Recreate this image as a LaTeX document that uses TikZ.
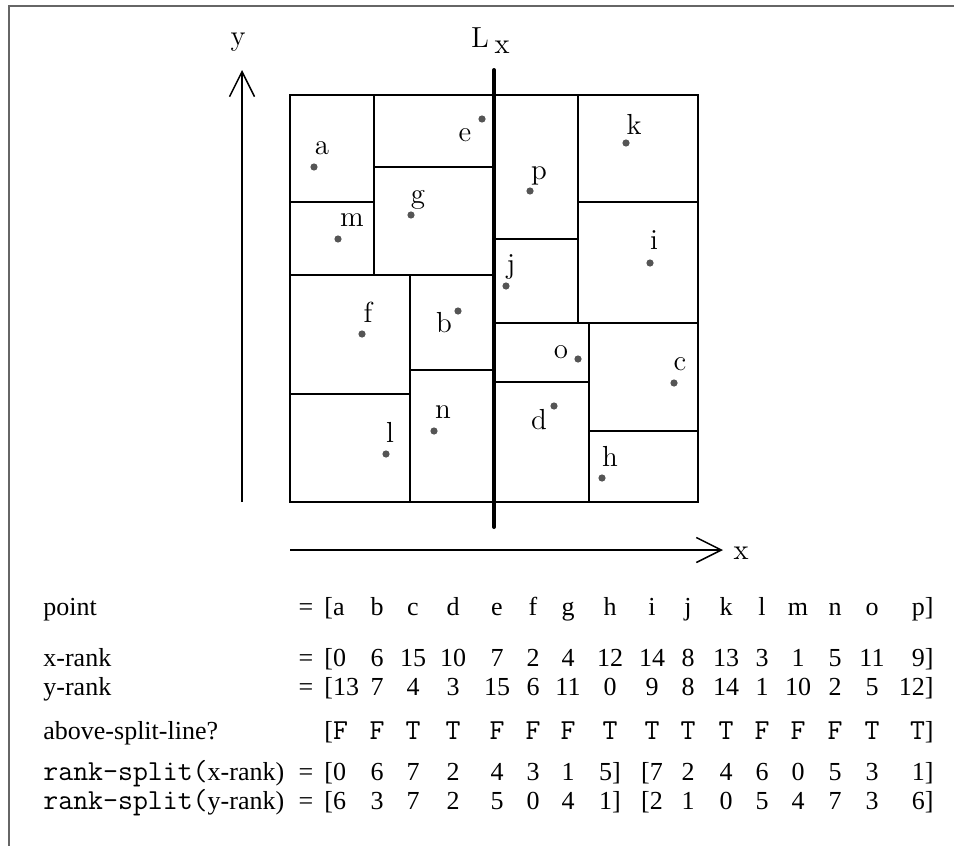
\documentclass[tikz,border=0pt]{standalone}
\usepackage{fontspec}
\newfontfamily\tabfont{Liberation Serif}
\usetikzlibrary{arrows.meta}
\definecolor{dotgray}{HTML}{555555}
\definecolor{bordergray}{HTML}{666666}
\newcommand\tabsize{\fontsize{13}{15}\selectfont}
\newcommand\ttsize{\fontsize{14.5}{16}\selectfont}
\newcommand\lblsize{\fontsize{14.5}{17}\selectfont}
\newcommand\tabrow[6]{%
  \node[#3, anchor=base west] (#1-1) at (324,#2) {#4};
  \foreach \v [count=\k from 2] in {#5} {
    \pgfmathsetmacro\cx{{377,413,453,497,533,568,610,652,688,726,762,798,835,872}[\k-2]}
    \node[#3, anchor=base] (#1-\k) at (\cx,#2) {\v};
  }
  \node[#3, anchor=base east] (#1-16) at (934,#2) {#6};
}
\tikzset{
  box/.style={draw, line width=0.75pt},
  splitline/.style={line width=2pt, line cap=round},
  axis/.style={line width=0.75pt, -{Straight Barb[length=12.5pt, width=12.5pt, line width=0.75pt]}},
  pt/.style={circle, fill=dotgray, inner sep=0pt, minimum size=3.6pt},
  plabel/.style={font=\lblsize, inner sep=0pt},
  tcell/.style={font=\tabfont\tabsize, inner sep=0pt},
  ttcell/.style={font=\ttfamily\ttsize, inner sep=0pt},
  frame/.style={draw=bordergray, line width=1pt}
}
\begin{document}
\begin{tikzpicture}[x=0.5pt, y=-0.5pt]
\fill[white] (0,0) rectangle (954,846);
\useasboundingbox (0,0) rectangle (954,846);
% frame
\draw[frame] (8.5,846) -- (8.5,5.5) -- (954,5.5);
% axes
\draw[axis] (242,502) -- (242,70);
\draw[axis] (290,550) -- (723,550);
\node[plabel] (ylab) at (238,42) {y};
\node[plabel] (xlab) at (741,553) {x};
% split line label
\node[plabel] (LxL) at (480,37.5) {L};
\node[plabel] (Lxx) at (502,47.5) {x};
% boxes
\draw[box] (290,95) rectangle (698,502);
\draw[box] (374,95) -- (374,275);
\draw[box] (374,167) -- (494,167);
\draw[box] (290,202) -- (374,202);
\draw[box] (290,275) -- (494,275);
\draw[box] (410,275) -- (410,502);
\draw[box] (290,394) -- (410,394);
\draw[box] (410,370) -- (494,370);
\draw[box] (578,95) -- (578,323);
\draw[box] (578,202) -- (698,202);
\draw[box] (494,239) -- (578,239);
\draw[box] (494,323) -- (698,323);
\draw[box] (589,323) -- (589,502);
\draw[box] (494,382) -- (589,382);
\draw[box] (589,431) -- (698,431);
% split line
\draw[splitline] (494,70) -- (494,527);
% points
\foreach \n/\dx/\dy/\lx/\ly in {a/314/167/322/148, b/458/311/444/323, c/674/383/680/364,
  d/554/406/539/420, e/482/119/465/135, f/362/334/368/312, g/411/215/418/200,
  h/602/478/610/456, i/650/263/654/240, j/506/286/511/267, k/626/143/634/124,
  l/386/454/390/432, m/338/239/352/220, n/434/431/443/412, o/578/359/561/352,
  p/530/191/539/176} {
  \node[pt] (\n) at (\dx,\dy) {};
  \node[plabel] (l\n) at (\lx,\ly) {\n};
}
% table labels
\node[tcell, anchor=base west] (lbl-pt) at (43,615) {point};
\node[tcell, anchor=base west] (lbl-xr) at (43,666) {x-rank};
\node[tcell, anchor=base west] (lbl-yr) at (43,695) {y-rank};
\node[tcell, anchor=base west] (lbl-ab) at (43,739) {above-split-line?};
\node[tcell, anchor=base west] (lbl-rx) at (43,780) {{\ttfamily\ttsize rank-split(}x-rank)};
\node[tcell, anchor=base west] (lbl-ry) at (43,809) {{\ttfamily\ttsize rank-split(}y-rank)};
\node[tcell, anchor=base] (eq-pt) at (306,615) {=};
\node[tcell, anchor=base] (eq-xr) at (306,666) {=};
\node[tcell, anchor=base] (eq-yr) at (306,695) {=};
\node[tcell, anchor=base] (eq-rx) at (306,780) {=};
\node[tcell, anchor=base] (eq-ry) at (306,809) {=};
% table rows
\tabrow{pt}{615}{tcell}{[a}{b,c,d,e,f,g,h,i,j,k,l,m,n,o}{p]}
\tabrow{xr}{666}{tcell}{[0}{6,15,10,7,2,4,12,14,8,13,3,1,5,11}{9]}
\tabrow{yr}{695}{tcell}{[13}{7,4,3,15,6,11,0,9,8,14,1,10,2,5}{12]}
\tabrow{ab}{739}{ttcell}{{\tabfont\tabsize[}F}{F,T,T,F,F,F,T,T,T,T,F,F,F,T}{T{\tabfont\tabsize]}}
\tabrow{rx}{780}{tcell}{[0}{6,7,2,4,3,1,{5]},{[7},2,4,6,0,5,3}{1]}
\tabrow{ry}{809}{tcell}{[6}{3,7,2,5,0,4,{1]},{[2},1,0,5,4,7,3}{6]}
\end{tikzpicture}
\end{document}
